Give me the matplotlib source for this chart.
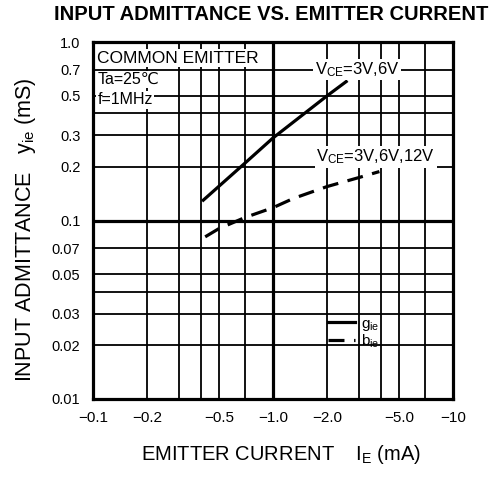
import matplotlib
matplotlib.use('Agg')
import matplotlib.pyplot as plt
from matplotlib.ticker import FixedLocator, NullFormatter

plt.rcParams['font.family'] = ['Liberation Sans', 'DejaVu Sans']
plt.rcParams['mathtext.fontset'] = 'custom'
plt.rcParams['mathtext.rm'] = 'Liberation Sans'

# curve data (|IE| in mA, admittance in mS)
ie_g = [0.41, 0.7, 1.0, 2.0, 2.55]
g_ie = [0.13, 0.21, 0.29, 0.50, 0.60]
ie_b = [0.42, 0.5, 0.7, 1.0, 1.3, 2.0, 3.0, 3.9]
b_ie = [0.081, 0.090, 0.104, 0.118, 0.133, 0.155, 0.174, 0.188]

x_ticks = [0.1, 0.2, 0.5, 1.0, 2.0, 5.0, 10.0]
x_labels = ['\u22120.1', '\u22120.2', '\u22120.5', '\u22121.0', '\u22122.0', '\u22125.0', '\u221210']
y_ticks = [0.01, 0.02, 0.03, 0.05, 0.07, 0.1, 0.2, 0.3, 0.5, 0.7, 1.0]
y_labels = ['0.01', '0.02', '0.03', '0.05', '0.07', '0.1', '0.2', '0.3', '0.5', '0.7', '1.0']
x_grid = [0.2, 0.3, 0.4, 0.5, 0.7, 2, 3, 4, 5, 7]
y_grid = [0.02, 0.03, 0.04, 0.05, 0.07, 0.2, 0.3, 0.4, 0.5, 0.7]

fig = plt.figure(figsize=(4.93, 4.83), dpi=100)
ax = fig.add_axes([93/493, 1-399/483, 360/493, 357/483])
ax.set_xscale('log')
ax.set_yscale('log')
ax.set_xlim(0.1, 10)
ax.set_ylim(0.01, 1.0)

# keep the thin grid lines that sit on labelled ticks
ax.xaxis.remove_overlapping_locs = False
ax.yaxis.remove_overlapping_locs = False
ax.xaxis.set_major_locator(FixedLocator(x_ticks))
ax.set_xticklabels(x_labels)
ax.yaxis.set_major_locator(FixedLocator(y_ticks))
ax.set_yticklabels(y_labels)
ax.xaxis.set_minor_locator(FixedLocator(x_grid))
ax.yaxis.set_minor_locator(FixedLocator(y_grid))
ax.xaxis.set_minor_formatter(NullFormatter())
ax.yaxis.set_minor_formatter(NullFormatter())
ax.tick_params(which='both', length=0)
ax.tick_params(axis='x', pad=9, labelsize=11)
ax.tick_params(axis='y', pad=9, labelsize=10.5)
ax.grid(which='minor', color='black', lw=1.3)
ax.axvline(1.0, color='black', lw=2.3)
ax.axhline(0.1, color='black', lw=2.3)
for s in ax.spines.values():
    s.set_linewidth(2.3)

ax.plot(ie_g, g_ie, color='black', lw=2.3, label=r'$\mathregular{g_{ie}}$')
ax.plot(ie_b, b_ie, color='black', lw=2.3, dashes=(5, 3), label=r'$\mathregular{b_{ie}}$')

box = dict(facecolor='white', edgecolor='none', pad=1)
ax.text(0.012, 0.955, 'COMMON EMITTER', transform=ax.transAxes, fontsize=12.5, va='center', bbox=box)
ax.text(0.012, 0.895, 'Ta=25\u2103', transform=ax.transAxes, fontsize=11.5, va='center', bbox=box)
ax.text(0.012, 0.838, 'f=1MHz', transform=ax.transAxes, fontsize=11.5, va='center', bbox=box)
ax.text(2.93, 0.7, r'$\mathregular{V_{CE}}$=3V,6V', fontsize=12, ha='center', va='center', bbox=box)
ax.text(3.73, 0.227, r'$\mathregular{V_{CE}}$=3V,6V,12V', fontsize=12, ha='center', va='center', bbox=box)

ax.legend(loc='upper left', bbox_to_anchor=(0.635, 0.248), frameon=False, handlelength=1.8,
          handletextpad=0.4, labelspacing=0.0, fontsize=11, borderaxespad=0)

fig.text(271/493, 1-15/483, 'INPUT ADMITTANCE VS. EMITTER CURRENT', fontsize=14.5,
         fontweight='bold', ha='center', va='center')
fig.text(26/493, 1-230/483, r'INPUT ADMITTANCE   $\mathregular{y_{ie}}$ (mS)', fontsize=15.5,
         rotation=90, ha='center', va='center')
fig.text(281/493, 1-455/483, r'EMITTER CURRENT    $\mathregular{I_E}$ (mA)', fontsize=14.5,
         ha='center', va='center')

fig.savefig('out.png', dpi=100)
